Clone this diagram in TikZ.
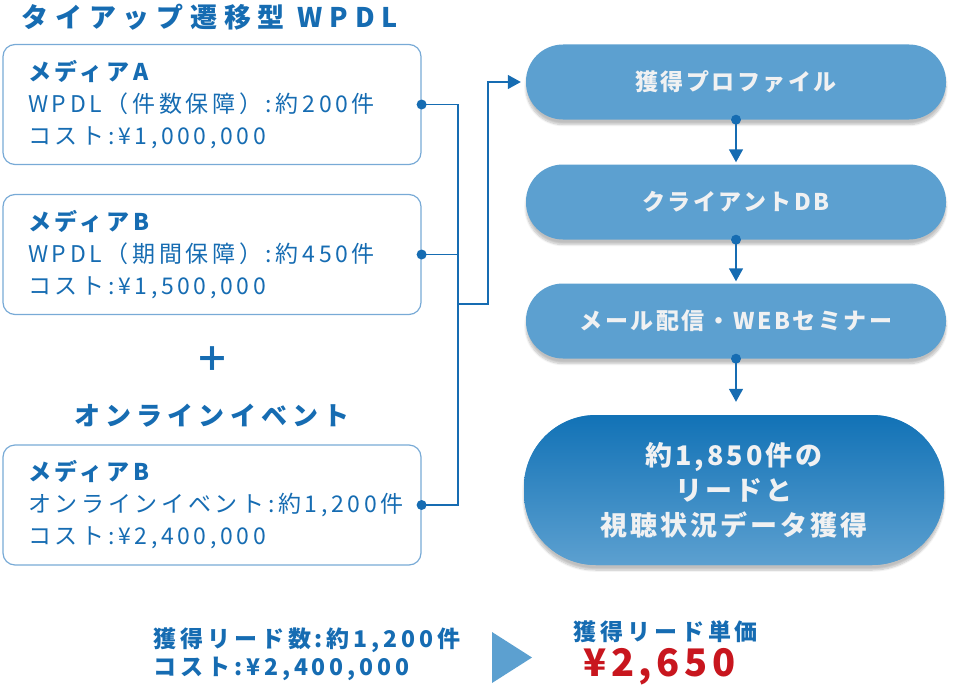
\documentclass[tikz,border=0pt]{standalone}
\usepackage{fontspec}
\setmainfont{Noto Sans CJK JP}
\usepackage{tikz}
\usetikzlibrary{arrows.meta,shadows.blur}
\definecolor{wpdlblue}{RGB}{22,108,178}
\definecolor{boxline}{RGB}{120,170,214}
\definecolor{pillblue}{RGB}{92,160,208}
\definecolor{deepblue}{RGB}{18,114,182}
\definecolor{pilltext}{RGB}{240,241,242}
\definecolor{pricered}{RGB}{200,22,30}

\begin{document}
\begin{tikzpicture}[x=1pt, y=-1pt,
    media/.style={draw=boxline, line width=1.2pt, rounded corners=12pt, minimum width=418pt, minimum height=120pt, text width=368pt, inner xsep=25pt, align=left, text=wpdlblue, font=\fontsize{23}{32}\selectfont\addfontfeature{LetterSpace=16}},
    pill/.style={fill=pillblue, rounded corners=37pt, minimum width=420pt, minimum height=75pt, text=pilltext, font=\fontsize{23}{26}\selectfont\bfseries\addfontfeature{LetterSpace=11}, blur shadow={shadow xshift=0pt, shadow yshift=-5pt, shadow blur steps=8, shadow opacity=25}},
    heading/.style={text=wpdlblue, font=\fontsize{26}{30}\selectfont\bfseries\addfontfeature{LetterSpace=20}},
    summary/.style={text=wpdlblue, align=left, font=\fontsize{23}{28}\selectfont\bfseries\addfontfeature{LetterSpace=17}},
    wire/.style={draw=wpdlblue, line width=1.4pt},
    tip/.style={-{Triangle[width=14pt,length=13pt]}}]
    \useasboundingbox (0,0) rectangle (976,685);

    % left column
    \node (title) [heading, anchor=west, font=\fontsize{27}{30}\selectfont\bfseries\addfontfeature{LetterSpace=25}] at (18,17) {タイアップ遷移型 WPDL};
    \node (mediaA) [media] at (212,104.5) {{\bfseries メディアA}\\WPDL（件数保障）:約200件\\コスト:¥1,000,000};
    \node (mediaB) [media] at (212,254.5) {{\bfseries メディアB}\\WPDL（期間保障）:約450件\\コスト:¥1,500,000};
    \node (plus) [text=wpdlblue, font=\fontsize{34}{34}\selectfont\bfseries] at (212,359) {＋};
    \node (online) [heading] at (212,416) {オンラインイベント};
    \node (event) [media] at (212,505) {{\bfseries メディアB}\\オンラインイベント:約1,200件\\コスト:¥2,400,000};

    % right column
    \node (profile) [pill] at (736,82) {獲得プロファイル};
    \node (clientdb) [pill] at (736,202) {クライアントDB};
    \node (mail) [pill] at (736,321) {メール配信・WEBセミナー};
    \node (result) [pill, rounded corners=72pt, minimum height=150pt, top color=deepblue, bottom color=pillblue, align=center, font=\fontsize{27}{35}\selectfont\bfseries\addfontfeature{LetterSpace=11}] at (734,490) {約1,850件の\\リードと\\視聴状況データ獲得};

    \coordinate (join) at (458,304);
    \coordinate (turn) at (488,304);
    \draw[wire] (mediaA.east) -| (join);
    \draw[wire] (mediaB.east) -| (join);
    \draw[wire] (event.east) -| (join);
    \draw[wire, tip, shorten >=5pt] (join) -- (turn) |- (profile.west);
    \foreach \n in {mediaA, mediaB, event}
        \fill[wpdlblue] (\n.east) circle (5pt);

    \draw[wire, tip, shorten >=2pt] (profile.south) -- (clientdb.north);
    \draw[wire, tip, shorten >=2pt] (clientdb.south) -- (mail.north);
    \draw[wire, tip, shorten >=13pt] (mail.south) -- (mail.south |- result.north);
    \foreach \n in {profile, clientdb, mail}
        \fill[wpdlblue] (\n.south) circle (5pt);

    % bottom summary
    \node (leads) [summary, anchor=west] at (150,654) {獲得リード数:約1,200件\\コスト:¥2,400,000};
    \fill[pillblue] (492,632) -- (532,657.5) -- (492,683) -- cycle;
    \node (unitlabel) [summary, anchor=west] at (570,632) {獲得リード単価};
    \node (unitprice) [anchor=west, text=pricered, font=\fontsize{38}{40}\selectfont\bfseries\addfontfeature{LetterSpace=12}] at (580,667) {¥2,650};
\end{tikzpicture}
\end{document}
